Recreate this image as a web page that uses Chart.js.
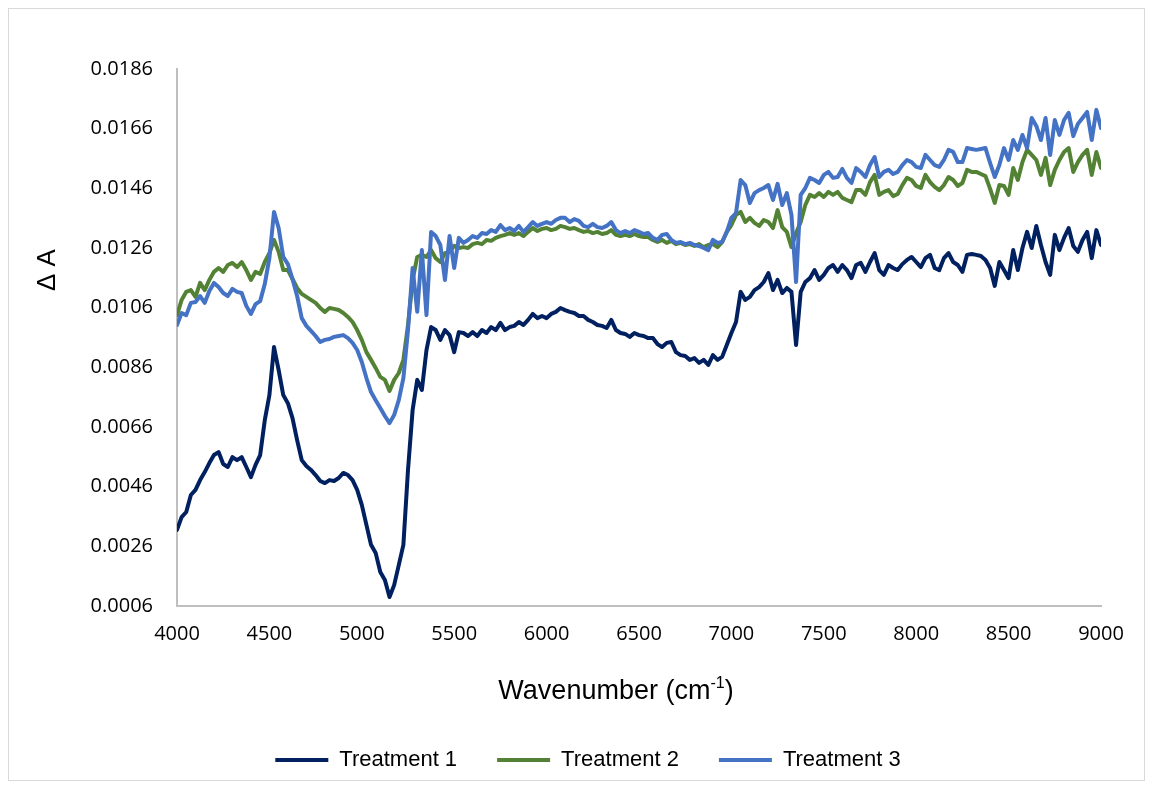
<!DOCTYPE html>
<html>
<head>
<meta charset="utf-8">
<script src="https://cdn.jsdelivr.net/npm/chart.js@4.4.1/dist/chart.umd.min.js"></script>
<style>
  html, body { margin: 0; padding: 0; background: #fff; }
  #wrap { width: 1153px; height: 789px; }
</style>
</head>
<body>
<div id="wrap"><canvas id="spectre" width="1153" height="789"></canvas></div>
<script>
// wavenumber grid (cm-1)
const wavenumbers = [
  4000, 4025, 4050, 4075, 4100, 4125, 4150, 4175,
  4200, 4225, 4250, 4275, 4300, 4325, 4350, 4375,
  4400, 4425, 4450, 4475, 4500, 4525, 4550, 4575,
  4600, 4625, 4650, 4675, 4700, 4725, 4750, 4775,
  4800, 4825, 4850, 4875, 4900, 4925, 4950, 4975,
  5000, 5025, 5050, 5075, 5100, 5125, 5150, 5175,
  5200, 5225, 5250, 5275, 5300, 5325, 5350, 5375,
  5400, 5425, 5450, 5475, 5500, 5525, 5550, 5575,
  5600, 5625, 5650, 5675, 5700, 5725, 5750, 5775,
  5800, 5825, 5850, 5875, 5900, 5925, 5950, 5975,
  6000, 6025, 6050, 6075, 6100, 6125, 6150, 6175,
  6200, 6225, 6250, 6275, 6300, 6325, 6350, 6375,
  6400, 6425, 6450, 6475, 6500, 6525, 6550, 6575,
  6600, 6625, 6650, 6675, 6700, 6725, 6750, 6775,
  6800, 6825, 6850, 6875, 6900, 6925, 6950, 6975,
  7000, 7025, 7050, 7075, 7100, 7125, 7150, 7175,
  7200, 7225, 7250, 7275, 7300, 7325, 7350, 7375,
  7400, 7425, 7450, 7475, 7500, 7525, 7550, 7575,
  7600, 7625, 7650, 7675, 7700, 7725, 7750, 7775,
  7800, 7825, 7850, 7875, 7900, 7925, 7950, 7975,
  8000, 8025, 8050, 8075, 8100, 8125, 8150, 8175,
  8200, 8225, 8250, 8275, 8300, 8325, 8350, 8375,
  8400, 8425, 8450, 8475, 8500, 8525, 8550, 8575,
  8600, 8625, 8650, 8675, 8700, 8725, 8750, 8775,
  8800, 8825, 8850, 8875, 8900, 8925, 8950, 8975,
  9000
];

// delta absorbance per treatment
const treatment1 = [
  0.00315, 0.00358, 0.00375, 0.00432, 0.00449, 0.00482, 0.00509, 0.00539,
  0.00566, 0.00576, 0.00536, 0.00526, 0.00559, 0.00549, 0.00559, 0.00526,
  0.00492, 0.00533, 0.00566, 0.00683, 0.00767, 0.00928, 0.00851, 0.00767,
  0.0074, 0.0069, 0.00616, 0.00549, 0.00529, 0.00516, 0.00499, 0.00479,
  0.00472, 0.00482, 0.00479, 0.00489, 0.00506, 0.00499, 0.00482, 0.00449,
  0.00399, 0.00332, 0.00265, 0.00238, 0.00174, 0.00147, 0.0009, 0.0013,
  0.00197, 0.00265, 0.00516, 0.00717, 0.00818, 0.00784, 0.00918, 0.00995,
  0.00985, 0.00952, 0.00985, 0.00968, 0.00911, 0.00978, 0.00975, 0.00965,
  0.00978, 0.00965, 0.00985, 0.00975, 0.00995, 0.00985, 0.01009, 0.00985,
  0.00995, 0.00999, 0.01012, 0.01002, 0.01019, 0.01039, 0.01025, 0.01032,
  0.01025, 0.01039, 0.01046, 0.01059, 0.01052, 0.01046, 0.01042, 0.01032,
  0.01032, 0.01019, 0.01012, 0.01002, 0.00999, 0.00992, 0.01019, 0.00985,
  0.00975, 0.00972, 0.00962, 0.00975, 0.00968, 0.00965, 0.00958, 0.00958,
  0.00938, 0.00928, 0.00942, 0.00945, 0.00911, 0.00901, 0.00898, 0.00885,
  0.00891, 0.00875, 0.00885, 0.00868, 0.00901, 0.00885, 0.00895, 0.00935,
  0.00975, 0.01012, 0.01113, 0.01086, 0.01096, 0.01119, 0.01129, 0.01146,
  0.01176, 0.01119, 0.01153, 0.01109, 0.01126, 0.01113, 0.00935, 0.01113,
  0.01146, 0.01159, 0.01186, 0.01153, 0.0117, 0.01193, 0.01203, 0.0118,
  0.01203, 0.01186, 0.01159, 0.01203, 0.0121, 0.0118, 0.01213, 0.01243,
  0.01186, 0.0117, 0.01203, 0.01193, 0.01186, 0.01206, 0.0122, 0.0123,
  0.01213, 0.01196, 0.01226, 0.01237, 0.01193, 0.01186, 0.01226, 0.01243,
  0.01213, 0.01203, 0.0118, 0.01237, 0.0124, 0.01237, 0.01233, 0.0122,
  0.01193, 0.01133, 0.01213, 0.01186, 0.01159, 0.01253, 0.01186, 0.0126,
  0.01314, 0.0126, 0.01334, 0.0127, 0.01213, 0.0117, 0.01304, 0.01253,
  0.01294, 0.01327, 0.01267, 0.01247, 0.01287, 0.01314, 0.01226, 0.0132,
  0.0127
];

const treatment2 = [
  0.01035, 0.01086, 0.01113, 0.01119, 0.01096, 0.01143, 0.01119, 0.01153,
  0.0118, 0.01193, 0.0118, 0.01203, 0.0121, 0.01196, 0.01213, 0.01186,
  0.01153, 0.0118, 0.01173, 0.01213, 0.01243, 0.01287, 0.01247, 0.01186,
  0.01186, 0.01156, 0.01126, 0.01106, 0.01096, 0.01086, 0.01076, 0.01059,
  0.01046, 0.01059, 0.01056, 0.01052, 0.01042, 0.01029, 0.01012, 0.00985,
  0.00952, 0.00911, 0.00885, 0.00858, 0.00828, 0.00818, 0.00781, 0.00818,
  0.00841, 0.00885, 0.01002, 0.01153, 0.0123, 0.01237, 0.0123, 0.01253,
  0.01226, 0.01213, 0.01243, 0.01247, 0.01267, 0.0126, 0.01263, 0.0126,
  0.01273, 0.01277, 0.01273, 0.01287, 0.01284, 0.01294, 0.013, 0.01304,
  0.0131, 0.01304, 0.0131, 0.013, 0.01314, 0.01327, 0.01317, 0.01324,
  0.01327, 0.0132, 0.01324, 0.01334, 0.0133, 0.01324, 0.01327, 0.0132,
  0.01314, 0.01317, 0.0131, 0.01314, 0.01307, 0.0131, 0.0132, 0.01304,
  0.013, 0.01304, 0.013, 0.01307, 0.013, 0.01297, 0.01297, 0.01287,
  0.0128, 0.01287, 0.01277, 0.01284, 0.01273, 0.01277, 0.0127, 0.01273,
  0.01267, 0.01273, 0.01263, 0.0127, 0.01273, 0.01263, 0.0128, 0.01314,
  0.01337, 0.01371, 0.01381, 0.01347, 0.01361, 0.01344, 0.01334, 0.01354,
  0.01347, 0.01327, 0.01387, 0.0133, 0.01314, 0.01263, 0.0131, 0.01347,
  0.01404, 0.01438, 0.01431, 0.01444, 0.01431, 0.01448, 0.01438, 0.01448,
  0.01428, 0.01421, 0.01414, 0.01454, 0.01454, 0.01438, 0.01481, 0.01505,
  0.01438, 0.01448, 0.01454, 0.01434, 0.01441, 0.01471, 0.01495, 0.01488,
  0.01468, 0.01461, 0.01505, 0.01481, 0.01465, 0.01454, 0.01471, 0.01498,
  0.01488, 0.01468, 0.01478, 0.01522, 0.01515, 0.01515, 0.01508, 0.01501,
  0.01458, 0.01411, 0.01471, 0.01468, 0.01438, 0.01528, 0.01488, 0.01548,
  0.01589, 0.01572, 0.01555, 0.01505, 0.01562, 0.01471, 0.01522, 0.01555,
  0.01582, 0.01595, 0.01515, 0.01548, 0.01572, 0.01589, 0.01505, 0.01582,
  0.01528
];

const treatment3 = [
  0.01002, 0.01042, 0.01035, 0.01076, 0.01079, 0.01099, 0.01076, 0.01116,
  0.01143, 0.01129, 0.01109, 0.01099, 0.01123, 0.01113, 0.01109, 0.01066,
  0.01039, 0.01072, 0.01082, 0.01139, 0.01226, 0.01381, 0.01327, 0.0123,
  0.01206, 0.01156, 0.01099, 0.01025, 0.00999, 0.00982, 0.00965, 0.00945,
  0.00952, 0.00955, 0.00962, 0.00965, 0.00968, 0.00958, 0.00942, 0.00918,
  0.00878, 0.00824, 0.00777, 0.0075, 0.00724, 0.00697, 0.00673, 0.007,
  0.0075, 0.00824, 0.00985, 0.01193, 0.01046, 0.01253, 0.01035, 0.01314,
  0.013, 0.0127, 0.01153, 0.013, 0.01193, 0.01294, 0.01277, 0.01287,
  0.013, 0.01294, 0.0131, 0.01307, 0.0132, 0.01314, 0.01337, 0.0132,
  0.01327, 0.01317, 0.01334, 0.01314, 0.0133, 0.01347, 0.01334, 0.01341,
  0.01347, 0.01341, 0.01354, 0.01361, 0.01361, 0.01347, 0.01357, 0.01351,
  0.01334, 0.0133, 0.01341, 0.0133, 0.01327, 0.01334, 0.01347, 0.0132,
  0.0131, 0.01317, 0.0131, 0.0132, 0.01314, 0.01307, 0.0131, 0.01294,
  0.01287, 0.01304, 0.01307, 0.01287, 0.01277, 0.0128, 0.01273, 0.01277,
  0.0127, 0.01267, 0.0126, 0.01253, 0.01287, 0.01277, 0.0128, 0.01314,
  0.01361, 0.01377, 0.01488, 0.01471, 0.01411, 0.01444, 0.01454, 0.01461,
  0.01471, 0.01421, 0.01475, 0.01404, 0.01444, 0.01371, 0.01146, 0.01438,
  0.01461, 0.01495, 0.01488, 0.01478, 0.01505, 0.01515, 0.01495, 0.01498,
  0.01525, 0.01495, 0.01478, 0.01528, 0.01515, 0.01498, 0.01538, 0.01565,
  0.01498, 0.01515, 0.01522, 0.01508, 0.01515, 0.01538, 0.01555, 0.01548,
  0.01532, 0.01528, 0.01572, 0.01555, 0.01538, 0.01532, 0.01555, 0.01589,
  0.01582, 0.01548, 0.01548, 0.01595, 0.01592, 0.01589, 0.01592, 0.01595,
  0.01545, 0.01498, 0.01538, 0.01595, 0.01555, 0.01622, 0.01589, 0.01639,
  0.01595, 0.01696, 0.01669, 0.01622, 0.01696, 0.01572, 0.01689, 0.01639,
  0.01689, 0.01713, 0.01635, 0.01676, 0.01696, 0.01716, 0.01622, 0.01723,
  0.01662
];

const xTicks = [4000, 4500, 5000, 5500, 6000, 6500, 7000, 7500, 8000, 8500, 9000];
const yTicks = [0.0006, 0.0026, 0.0046, 0.0066, 0.0086, 0.0106, 0.0126, 0.0146, 0.0166, 0.0186];

const toPoints = ys => wavenumbers.map((w, i) => ({ x: w, y: ys[i] }));

// white page + thin frame around the whole figure
const frame = {
  id: 'frame',
  beforeDraw(chart) {
    const ctx = chart.ctx;
    ctx.save();
    ctx.fillStyle = '#fff';
    ctx.fillRect(0, 0, chart.width, chart.height);
    ctx.strokeStyle = '#d9d9d9';
    ctx.lineWidth = 1;
    ctx.strokeRect(8.5, 8.5, 1136, 772);
    ctx.restore();
  }
};

// axis titles (x title needs a superscript)
const axisTitles = {
  id: 'axisTitles',
  afterDraw(chart) {
    const ctx = chart.ctx;
    const area = chart.chartArea;
    const big = '27px "Liberation Sans", Arial, sans-serif';
    const small = '16px "Liberation Sans", Arial, sans-serif';
    ctx.save();
    ctx.fillStyle = '#000';
    ctx.textBaseline = 'alphabetic';
    ctx.font = big;
    const w1 = ctx.measureText('Wavenumber (cm').width;
    const w3 = ctx.measureText(')').width;
    ctx.font = small;
    const w2 = ctx.measureText('-1').width;
    let x = 616 - (w1 + w2 + w3) / 2;
    const y = area.bottom + 93;
    ctx.font = big;
    ctx.fillText('Wavenumber (cm', x, y);
    x += w1;
    ctx.font = small;
    ctx.fillText('-1', x, y - 11);
    x += w2;
    ctx.font = big;
    ctx.fillText(')', x, y);

    ctx.translate(48, 270);
    ctx.rotate(-Math.PI / 2);
    ctx.textAlign = 'center';
    ctx.textBaseline = 'middle';
    ctx.font = '26px "Liberation Sans", Arial, sans-serif';
    ctx.fillText('\u0394 A', 0, 0);
    ctx.restore();
  }
};

const tickFont = { family: '"Open Sans", sans-serif', size: 20 };

const series = (label, values, colour, order) => ({
  label,
  data: toPoints(values),
  borderColor: colour,
  backgroundColor: colour,
  borderWidth: 4,
  order
});

new Chart(document.getElementById('spectre'), {
  type: 'line',
  data: {
    datasets: [
      series('Treatment 1', treatment1, '#002060', 2),
      series('Treatment 2', treatment2, '#548235', 1),
      series('Treatment 3', treatment3, '#4472c4', 0)
    ]
  },
  options: {
    responsive: false,
    devicePixelRatio: 1,
    animation: false,
    layout: { padding: { left: 75, right: 52, top: 69, bottom: 18 } },
    elements: {
      line: { tension: 0, borderCapStyle: 'round', borderJoinStyle: 'round' },
      point: { radius: 0, hoverRadius: 0 }
    },
    scales: {
      x: {
        type: 'linear',
        min: 4000,
        max: 9000,
        afterBuildTicks: s => { s.ticks = xTicks.map(v => ({ value: v })); },
        afterFit: s => { s.height = 103; },
        grid: { display: false, drawTicks: false },
        border: { display: true, color: '#bfbfbf', width: 2 },
        ticks: { font: tickFont, color: '#000', padding: 16, maxRotation: 0, autoSkip: false, callback: v => String(v) }
      },
      y: {
        min: 0.0006,
        max: 0.0186,
        afterBuildTicks: s => { s.ticks = yTicks.map(v => ({ value: v })); },
        afterFit: s => { s.width = 102; },
        grid: { display: false, drawTicks: false },
        border: { display: true, color: '#bfbfbf', width: 2 },
        ticks: { font: tickFont, color: '#000', padding: 24, callback: v => Number(v).toFixed(4) }
      }
    },
    plugins: {
      tooltip: { enabled: false },
      legend: {
        position: 'bottom',
        maxHeight: 62,
        labels: {
          usePointStyle: true,
          pointStyle: 'line',
          pointStyleWidth: 53,
          padding: 40,
          color: '#000',
          font: { family: '"Liberation Sans", Arial, sans-serif', size: 22 },
          sort: (a, b) => a.datasetIndex - b.datasetIndex
        }
      }
    }
  },
  plugins: [frame, axisTitles]
});
</script>
</body>
</html>
